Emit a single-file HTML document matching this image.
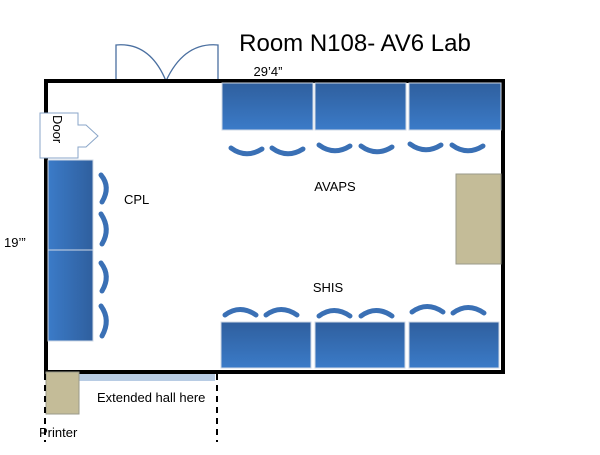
<!DOCTYPE html>
<html><head><style>body{margin:0;background:#fff}</style></head><body>
<svg width="600" height="450" xmlns="http://www.w3.org/2000/svg" font-family="Liberation Sans, sans-serif">
<defs>
<linearGradient id="gv" x1="0" y1="0" x2="0" y2="1"><stop offset="0" stop-color="#2f5f9e"/><stop offset="1" stop-color="#3b7bc8"/></linearGradient>
<linearGradient id="gh" x1="0" y1="0" x2="1" y2="0"><stop offset="0" stop-color="#3b7bc8"/><stop offset="1" stop-color="#2f5f9e"/></linearGradient>
</defs>
<text x="355" y="51" font-size="24" text-anchor="middle">Room N108- AV6 Lab</text>
<text x="268" y="76" font-size="13" text-anchor="middle">29’4”</text>
<text x="4" y="247" font-size="13">19’”</text>
<g fill="none" stroke="#4a6fa0" stroke-width="1.3">
<path d="M116 81 V45 Q150 42 166 81"/><path d="M218 81 V45 Q184 42 166 81"/>
</g>
<rect x="46" y="81" width="457" height="291" fill="none" stroke="#000" stroke-width="4"/>
<path d="M40 113 H78 V125 H86 L98 136 L86 147 H78 V158 H40 Z" fill="#fff" stroke="#8aa6c8" stroke-width="1"/>
<text transform="translate(53,115) rotate(90)" font-size="13">Door</text>
<g fill="url(#gv)" stroke="#cfd8e6" stroke-width="1">
<rect x="222" y="83" width="91" height="47"/><rect x="315" y="83" width="91" height="47"/><rect x="409" y="83" width="92" height="47"/>
<rect x="221" y="322" width="90" height="46"/><rect x="315" y="322" width="90" height="46"/><rect x="409" y="322" width="90" height="46"/>
</g>
<g fill="url(#gh)" stroke="#cfd8e6" stroke-width="1">
<rect x="48" y="160" width="45" height="90"/><rect x="48" y="250" width="45" height="91"/>
</g>
<g fill="none" stroke="#3a70b5" stroke-width="5" stroke-linecap="round">
<path d="M231 148 Q246 159 262 149"/><path d="M272 148 Q287 159 303 149"/>
<path d="M319 145 Q334 156 350 146"/><path d="M361 146 Q376 157 392 147"/>
<path d="M410 144 Q425 155 441 145"/><path d="M452 145 Q467 156 483 146"/>
<path d="M225 315 Q240 304 256 315"/><path d="M266 315 Q281 304 297 315"/>
<path d="M319 316 Q334 305 350 316"/><path d="M361 316 Q376 305 392 316"/>
<path d="M412 312 Q427 301 443 312"/><path d="M453 313 Q468 302 484 313"/>
<path d="M101 175 Q111 187 102 202"/><path d="M101 214 Q111 229 102 244"/>
<path d="M101 263 Q111 276 102 291"/><path d="M101 306 Q111 320 102 336"/>
</g>
<text x="124" y="204" font-size="13">CPL</text>
<text x="335" y="191" font-size="13" text-anchor="middle">AVAPS</text>
<text x="328" y="292" font-size="13" text-anchor="middle">SHIS</text>
<rect x="456" y="174" width="45" height="90" fill="#c4bc98" stroke="#9a9a8a" stroke-width="1"/>
<rect x="79" y="374" width="136" height="7" fill="#b8cce4"/>
<rect x="46" y="372" width="33" height="42" fill="#c4bc98" stroke="#9a9a8a" stroke-width="1"/>
<g stroke="#000" stroke-width="2" stroke-dasharray="6,5"><line x1="45" y1="374" x2="45" y2="442"/><line x1="217" y1="374" x2="217" y2="442"/></g>
<text x="97" y="402" font-size="13">Extended hall here</text>
<text x="39" y="437" font-size="13">Printer</text>
</svg>
</body></html>
